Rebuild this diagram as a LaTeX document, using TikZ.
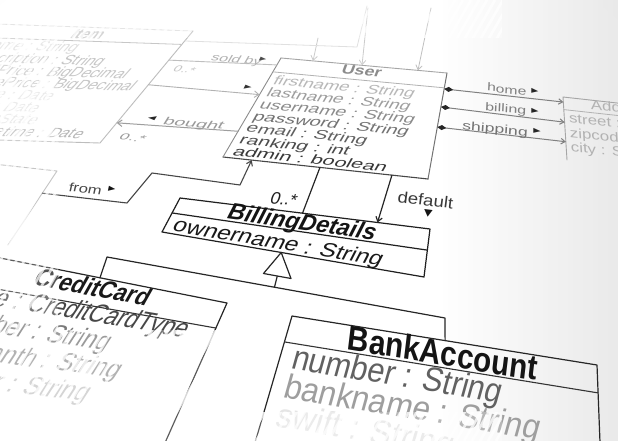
\documentclass[tikz,border=0pt]{standalone}
\usepackage{fontspec}
\setmainfont{Liberation Sans}
\newfontfamily\symfont{DejaVu Sans}
\usetikzlibrary{arrows.meta}
\makeatletter
% A quadrilateral frame on the tilted sheet: corners TL, TR, BL, BR (x y each)
\newcommand\defquad[9]{%
  \@namedef{q@#1@ax}{#2}\@namedef{q@#1@ay}{#3}%
  \@namedef{q@#1@bx}{#4}\@namedef{q@#1@by}{#5}%
  \@namedef{q@#1@cx}{#6}\@namedef{q@#1@cy}{#7}%
  \@namedef{q@#1@dx}{#8}\@namedef{q@#1@dy}{#9}%
  \coordinate (#1-tl) at (#2,#3);\coordinate (#1-tr) at (#4,#5);%
  \coordinate (#1-bl) at (#6,#7);\coordinate (#1-br) at (#8,#9);}
% flat design width and height of a frame
\newcommand\quadsize[3]{\@namedef{q@#1@w}{#2}\@namedef{q@#1@h}{#3}}
% point (u,v) of a frame, with the local row direction, slant and scales
\newcommand\qcalc[3]{%
  \edef\qax{\@nameuse{q@#1@ax}}\edef\qay{\@nameuse{q@#1@ay}}%
  \edef\qbx{\@nameuse{q@#1@bx}}\edef\qby{\@nameuse{q@#1@by}}%
  \edef\qcx{\@nameuse{q@#1@cx}}\edef\qcy{\@nameuse{q@#1@cy}}%
  \edef\qdx{\@nameuse{q@#1@dx}}\edef\qdy{\@nameuse{q@#1@dy}}%
  \edef\qw{\@nameuse{q@#1@w}}\edef\qh{\@nameuse{q@#1@h}}%
  \pgfmathsetmacro\qLx{(\qax)+(#3)*((\qcx)-(\qax))}%
  \pgfmathsetmacro\qLy{(\qay)+(#3)*((\qcy)-(\qay))}%
  \pgfmathsetmacro\qRx{(\qbx)+(#3)*((\qdx)-(\qbx))}%
  \pgfmathsetmacro\qRy{(\qby)+(#3)*((\qdy)-(\qby))}%
  \pgfmathsetmacro\qPx{(\qLx)+(#2)*((\qRx)-(\qLx))}%
  \pgfmathsetmacro\qPy{(\qLy)+(#2)*((\qRy)-(\qLy))}%
  \pgfmathsetmacro\qTx{(\qax)+(#2)*((\qbx)-(\qax))}%
  \pgfmathsetmacro\qTy{(\qay)+(#2)*((\qby)-(\qay))}%
  \pgfmathsetmacro\qBx{(\qcx)+(#2)*((\qdx)-(\qcx))}%
  \pgfmathsetmacro\qBy{(\qcy)+(#2)*((\qdy)-(\qcy))}%
  \pgfmathsetmacro\qrx{(\qRx)-(\qLx)}%
  \pgfmathsetmacro\qry{(\qLy)-(\qRy)}%
  \pgfmathsetmacro\qAng{atan2(\qry,\qrx)}%
  \pgfmathsetmacro\qLen{veclen(\qrx,\qry)}%
  \pgfmathsetmacro\qux{(\qTx)-(\qBx)}%
  \pgfmathsetmacro\quy{(\qBy)-(\qTy)}%
  \pgfmathsetmacro\qupx{(\qux)*cos(\qAng)+(\quy)*sin(\qAng)}%
  \pgfmathsetmacro\qupy{(\quy)*cos(\qAng)-(\qux)*sin(\qAng)}%
  \pgfmathsetmacro\qKx{(\qLen)/(\qw)}%
  \pgfmathsetmacro\qKy{(\qupy)/(\qh)}%
  \pgfmathsetmacro\qSl{(\qupx)/(\qupy)}%
}
\newcommand\qpoint[4]{\qcalc{#2}{#3}{#4}\coordinate (#1) at (\qPx,\qPy);}
% text set on a frame: node name, frame, u, v, anchor, style, text
\newcommand\qtext[7]{\qcalc{#2}{#3}{#4}%
  \node[#6, anchor=#5, rotate=\qAng, xslant=\qSl, xscale=\qKx, yscale=\qKy] (#1) at (\qPx,\qPy) {#7};}
% text oriented by a frame but placed at a given point
\newcommand\qtextxy[8]{\qcalc{#2}{#3}{#4}%
  \node[#7, anchor=#6, rotate=\qAng, xslant=\qSl, xscale=\qKx, yscale=\qKy] (#1) at (#5) {#8};}
% compartment line across a frame at height v
\newcommand\qsep[3]{\qpoint{#1-sa}{#1}{0}{#2}\qpoint{#1-sb}{#1}{1}{#2}\draw[#3] (#1-sa) -- (#1-sb);}
\makeatother
\pgfdeclareradialshading{paper}{\pgfpoint{0bp}{0bp}}{color(0bp)=(white); color(20bp)=(white); color(34bp)=(black!5); color(50bp)=(black!12)}
\tikzset{
  every node/.style={inner sep=0pt, outer sep=0pt},
  ln/.style={line width=#1, line cap=round, line join=round},
  tipo/.style={-{Straight Barb[length=4.5pt,width=6.5pt]}},
  fs/.style={font=\fontsize{#1}{#1}\selectfont},
  fsb/.style={font=\fontsize{#1}{#1}\selectfont\bfseries},
  fsbi/.style={font=\fontsize{#1}{#1}\selectfont\bfseries\itshape},
  sym/.style={font=\fontsize{#1}{#1}\selectfont\symfont},
}
\begin{document}
\begin{tikzpicture}[x=1pt,y=-1pt]
\useasboundingbox (0,0) rectangle (618,441);
% sheet of paper
\shade[shading=paper] (-210,-170) rectangle (810,650);
\shade[left color=white, right color=black!14, fill opacity=0.6] (440,0) rectangle (618,441);

% ---------------- frames ----------------
\defquad{I}{-4}{24}{193}{31}{-106}{137}{100}{143}\quadsize{I}{197}{130}
\defquad{U}{281}{58}{447}{73}{223}{157}{428}{179}\quadsize{U}{167}{139}
\defquad{A}{563}{97}{680}{110}{567}{160}{684}{172}\quadsize{A}{118}{80}
\defquad{B}{180}{198}{430}{229}{162}{232}{424}{277}\quadsize{B}{252}{42}
\defquad{C}{-15}{255}{227}{303}{-140}{445}{153}{470}\quadsize{C}{247}{172}
\defquad{K}{292}{316}{597}{365}{250}{460}{603}{520}\quadsize{K}{309}{126}
\defquad{M}{-70}{157}{57}{171}{-110}{235}{8}{245}\quadsize{M}{128}{70}
% label frames
\defquad{lz}{160}{40}{285}{50}{60}{160}{235}{172}\quadsize{lz}{125}{185}
\defquad{rz}{445}{75}{565}{90}{435}{150}{568}{165}\quadsize{rz}{121}{104}
\defquad{fz}{40}{165}{170}{178}{28}{215}{160}{230}\quadsize{fz}{131}{69}
\defquad{dz}{385}{180}{470}{190}{378}{230}{465}{242}\quadsize{dz}{86}{60}

% ---------------- Item ----------------
\draw[ln=0.8pt, draw=black!14] (I-tl) -- (I-tr);
\draw[ln=0.9pt, draw=black!26] (I-tr) -- (I-br) -- (I-bl);
\qsep{I}{0.12}{ln=0.8pt, draw=black!22}
\qtext{item-t}{I}{0.5}{0.1}{base}{fsb=15, text=black!22}{Item}
\qtext{item-1}{I}{0.035}{0.22}{base west}{fs=15.4, text=black!12}{name : String}
\qtext{item-2}{I}{0.035}{0.33}{base west}{fs=15.4, text=black!22}{description : String}
\qtext{item-3}{I}{0.035}{0.435}{base west}{fs=15.4, text=black!22}{initialPrice : BigDecimal}
\qtext{item-4}{I}{0.035}{0.54}{base west}{fs=15.4, text=black!22}{reservePrice : BigDecimal}
\qtext{item-5}{I}{0.035}{0.645}{base west}{fs=15.4, text=black!10}{startDate : Date}
\qtext{item-6}{I}{0.035}{0.75}{base west}{fs=15.4, text=black!10}{endDate : Date}
\qtext{item-7}{I}{0.035}{0.855}{base west}{fs=15.4, text=black!10}{state : ItemState}
\qtext{item-8}{I}{0.035}{0.965}{base west}{fs=15.4, text=black!28}{approvalDatetime : Date}

% ---------------- Comment (left edge) ----------------
\draw[ln=0.9pt, draw=black!30] (M-tl) -- (M-tr) -- (M-br);

% ---------------- User ----------------
\draw[ln=0.9pt, draw=black!35] (U-tl) -- (U-tr);
\draw[ln=1pt, draw=black!55] (U-tr) -- (U-br);
\draw[ln=1.1pt, draw=black!72] (U-br) -- (U-bl);
\draw[ln=0.9pt, draw=black!45] (U-bl) -- (U-tl);
\qsep{U}{0.14}{ln=0.8pt, draw=black!30}
\qtext{user-t}{U}{0.5}{0.095}{base}{fsb=17.4, text=black!45}{User}
\qtext{user-1}{U}{0.035}{0.26}{base west}{fs=17.4, text=black!28}{firstname : String}
\qtext{user-2}{U}{0.035}{0.38}{base west}{fs=17.4, text=black!38}{lastname : String}
\qtext{user-3}{U}{0.035}{0.50}{base west}{fs=17.4, text=black!45}{username : String}
\qtext{user-4}{U}{0.035}{0.62}{base west}{fs=17.4, text=black!55}{password : String}
\qtext{user-5}{U}{0.035}{0.74}{base west}{fs=17.4, text=black!62}{email : String}
\qtext{user-6}{U}{0.035}{0.86}{base west}{fs=17.4, text=black!70}{ranking : int}
\qtext{user-7}{U}{0.035}{0.975}{base west}{fs=17.4, text=black!78}{admin : boolean}

% ---------------- Address ----------------
\draw[ln=0.9pt, draw=black!35] (A-bl) -- (A-tl) -- (A-tr);
\qsep{A}{0.2}{ln=0.8pt, draw=black!30}
\qtext{addr-t}{A}{0.5}{0.15}{base}{fs=17, text=black!30}{Address}
\qtext{addr-1}{A}{0.04}{0.4}{base west}{fs=17, text=black!30}{street : String}
\qtext{addr-2}{A}{0.04}{0.63}{base west}{fs=17, text=black!30}{zipcode : String}
\qtext{addr-3}{A}{0.04}{0.86}{base west}{fs=17, text=black!30}{city : String}

% ---------------- BillingDetails ----------------
\draw[ln=1.2pt, draw=black!88] (B-tl) -- (B-tr) -- (B-br) -- (B-bl) -- cycle;
\qsep{B}{0.44}{ln=1.2pt, draw=black!88}
\qtext{bd-t}{B}{0.5}{0.39}{base}{fsbi=23, text=black!92}{BillingDetails}
\qtext{bd-1}{B}{0.03}{0.93}{base west}{fs=23, text=black!90}{ownername : String}

% ---------------- CreditCard ----------------
\draw[ln=1.2pt, draw=black!85] (C-tl) -- (C-tr) -- (C-br);
\qsep{C}{0.15}{ln=1.1pt, draw=black!80}
\qtext{cc-t}{C}{0.47}{0.1}{base}{fsb=22, text=black!90}{CreditCard}
\qtext{cc-1}{C}{0.02}{0.232}{base west}{fs=22, text=black!72}{type : CreditCardType}
\qtext{cc-2}{C}{0.02}{0.37}{base west}{fs=22, text=black!52}{number : String}
\qtext{cc-3}{C}{0.02}{0.51}{base west}{fs=22, text=black!40}{expMonth : String}
\qtext{cc-4}{C}{0.02}{0.655}{base west}{fs=22, text=black!22}{expYear : String}

% ---------------- BankAccount ----------------
\draw[ln=1.2pt, draw=black!85] (K-bl) -- (K-tl) -- (K-tr) -- (K-br);
\qsep{K}{0.18}{ln=1.1pt, draw=black!80}
\qtext{ba-t}{K}{0.5}{0.165}{base}{fsb=29, text=black!92}{BankAccount}
\qtext{ba-1}{K}{0.04}{0.35}{base west}{fs=29, text=black!62}{number : String}
\qtext{ba-2}{K}{0.04}{0.55}{base west}{fs=29, text=black!38}{bankname : String}
\qtext{ba-3}{K}{0.04}{0.75}{base west}{fs=29, text=black!10}{swift : String}

% ---------------- generalization ----------------
\qpoint{b-bot}{B}{0.455}{1}
\coordinate (tri-l) at (263.5,273.5);
\coordinate (tri-r) at (291,278.5);
\coordinate (tri-c) at (277.3,276);
\coordinate (tj) at (274.5,287.2);
\coordinate (ta) at (107,257);
\coordinate (tb) at (445,318);
\qpoint{c-top}{C}{0.475}{0}
\qpoint{k-top}{K}{0.502}{0}
\draw[ln=1.2pt, draw=black!85] (c-top) -- (ta) -- (tb) -- (k-top);
\draw[ln=1.2pt, draw=black!85] (tri-c) -- (tj);
\draw[ln=1.2pt, draw=black!85, fill=white] (b-bot) -- (tri-l) -- (tri-r) -- cycle;

% ---------------- User to BillingDetails ----------------
\qpoint{u-b1}{U}{0.473}{1}
\qpoint{b-t1}{B}{0.49}{0}
\draw[ln=1.2pt, draw=black!85] (u-b1) -- (b-t1);
\qtextxy{bd-mult}{B}{0.4}{0}{269,203}{base west}{fs=17.5, text=black!88}{0..*}
\qpoint{u-b2}{U}{0.824}{1}
\qpoint{b-t2}{B}{0.79}{0}
\draw[ln=1.2pt, draw=black!85, tipo] (u-b2) -- (b-t2);
\qtextxy{def-l}{dz}{0.3}{0.3}{397,202}{base west}{fs=18.6, text=black!78}{default}
\qtextxy{def-m}{dz}{0.6}{0.5}{428,214}{center}{sym=11, text=black!92}{▼}

% ---------------- User to Address ----------------
\qpoint{u-r1}{U}{1}{0.15}\qpoint{a-l1}{A}{0}{0.08}
\qpoint{u-r2}{U}{1}{0.32}\qpoint{a-l2}{A}{0}{0.4}
\qpoint{u-r3}{U}{1}{0.51}\qpoint{a-l3}{A}{0}{0.71}
\foreach \s/\t in {u-r1/a-l1,u-r2/a-l2,u-r3/a-l3}
  \draw[ln=1pt, draw=black!50, {Diamond[length=9pt,width=5pt,color=black!85]}-{Straight Barb[length=4pt,width=5.5pt]}] (\s) -- (\t);
\qtextxy{home-l}{rz}{0.5}{0.2}{487,91}{base west}{fs=15.5, text=black!50}{home}
\qtextxy{home-m}{rz}{0.7}{0.2}{535,91}{center}{sym=9, text=black!85}{▶}
\qtextxy{bill-l}{rz}{0.5}{0.45}{485,110}{base west}{fs=15.5, text=black!50}{billing}
\qtextxy{bill-m}{rz}{0.7}{0.45}{535,111}{center}{sym=9, text=black!85}{▶}
\qtextxy{ship-l}{rz}{0.4}{0.7}{462,129}{base west}{fs=16.5, text=black!55}{shipping}
\qtextxy{ship-m}{rz}{0.7}{0.7}{537,131}{center}{sym=9, text=black!85}{▶}

% ---------------- Item to User ----------------
\qpoint{i-r1}{I}{1}{0.26}\qpoint{u-l1}{U}{0}{0.07}
\draw[ln=0.9pt, draw=black!25] (i-r1) -- (u-l1);
\qtextxy{sold-l}{lz}{0.6}{0.12}{210,61}{base west}{fs=15, text=black!30}{sold by}
\qtextxy{sold-m}{lz}{0.8}{0.15}{263,59}{center}{sym=8, text=black!70}{▶}
\qtextxy{sold-n}{lz}{0.2}{0.2}{172,72}{base west}{fs=13, text=black!22}{0..*}
\qpoint{i-r2}{I}{1}{0.48}\qpoint{u-l2}{U}{0}{0.37}
\draw[ln=0.9pt, draw=black!30, tipo] (i-r2) -- (u-l2);
\qtextxy{mid-m}{lz}{0.8}{0.4}{248,87}{center}{sym=8, text=black!80}{▶}
\qpoint{u-l3}{U}{0}{0.74}\qpoint{i-r3}{I}{1}{0.82}
\draw[ln=1pt, draw=black!38, tipo] (u-l3) -- (i-r3);
\qtextxy{bought-m}{lz}{0.4}{0.65}{152,118}{center}{sym=8, text=black!85}{◀}
\qtextxy{bought-l}{lz}{0.5}{0.65}{162,125}{base west}{fs=15.5, text=black!40}{bought}
\qtextxy{bought-n}{lz}{0.3}{0.8}{118,140}{base west}{fs=13, text=black!40}{0..*}

% ---------------- Comment to User ----------------
\qpoint{f0}{M}{1}{0.3}
\coordinate (f1) at (127,203);
\coordinate (f2) at (152,173);
\coordinate (f3) at (240,185);
\qpoint{u-b3}{U}{0.14}{1}
\draw[ln=1.1pt, draw=black!72, tipo] (f0) -- (f1) -- (f2) -- (f3) -- (u-b3);
\qtextxy{from-l}{fz}{0.3}{0.4}{68,191}{base west}{fs=16.5, text=black!72}{from}
\qtextxy{from-m}{fz}{0.5}{0.5}{112,189}{center}{sym=9, text=black!92}{▶}

% ---------------- connectors leaving at the top ----------------
\coordinate (t1) at (318,38);
\coordinate (t2) at (368,8);
\coordinate (t3) at (431,8);
\qpoint{u-t1}{U}{0.193}{0}
\qpoint{u-t2}{U}{0.488}{0}
\qpoint{u-t3}{U}{0.825}{0}
\draw[ln=0.8pt, draw=black!20, tipo] (t1) -- (u-t1);
\draw[ln=0.8pt, draw=black!20, tipo] (t2) -- (u-t2);
\draw[ln=0.8pt, draw=black!25, tipo] (t3) -- (u-t3);
\coordinate (bid-a) at (185,41);
\coordinate (bid-b) at (357,47);
\coordinate (bid-c) at (367,6);
\draw[ln=0.8pt, draw=black!12] (bid-a) -- (bid-b) -- (bid-c);

% ---------------- hatched border ----------------
\begin{scope}
  \clip (0,0) rectangle (502,38) (0,0) rectangle (58,441) (0,330) rectangle (230,441) (0,412) rectangle (502,441);
  \fill[white, opacity=0.25] (0,0) rectangle (618,441);
  \foreach \i in {-40,...,70}
    \draw[white, line width=2.6pt, opacity=0.75] (\i*8,441) -- (\i*8+255,0);
\end{scope}
\end{tikzpicture}
\end{document}
